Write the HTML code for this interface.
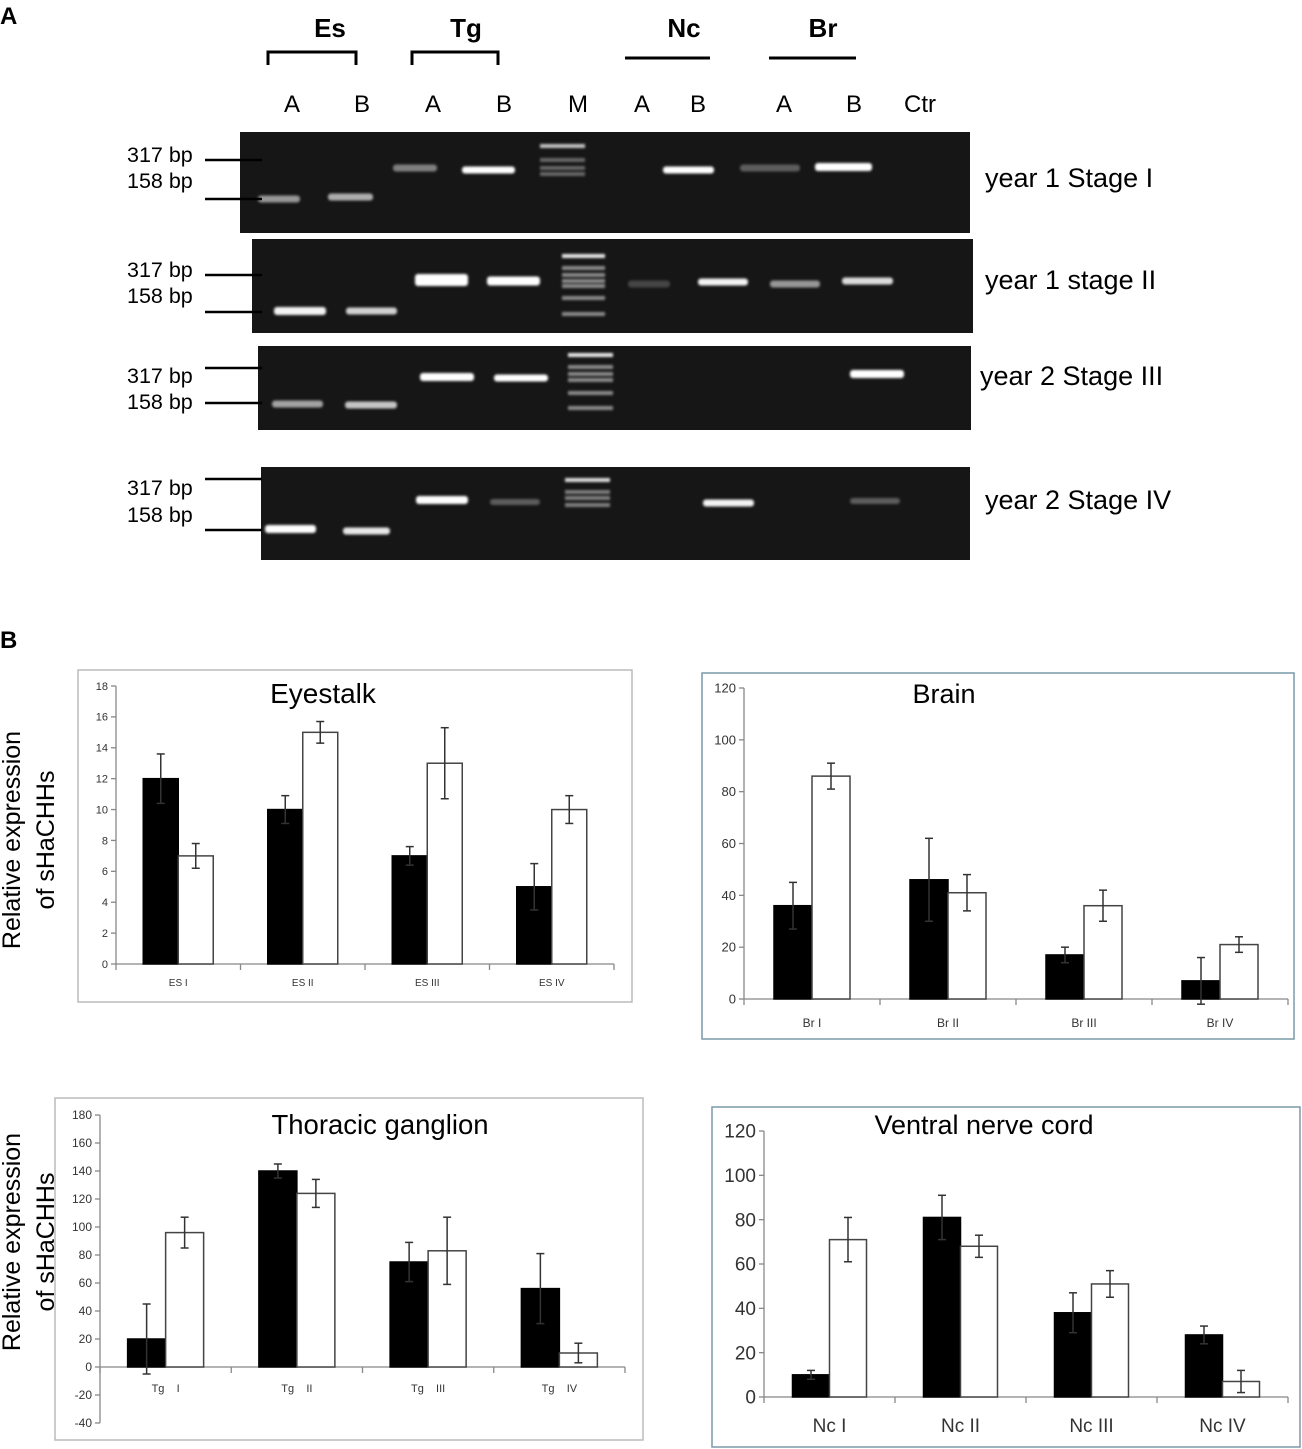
<!DOCTYPE html>
<html><head><meta charset="utf-8"><style>
body{margin:0;background:#fff}
svg{display:block;font-family:"Liberation Sans",Arial,sans-serif}
text{white-space:pre}
</style></head><body>
<svg id="fig" width="1302" height="1449" viewBox="0 0 1302 1449" xmlns="http://www.w3.org/2000/svg">
<defs><filter id="bl" x="-20%" y="-100%" width="140%" height="300%"><feGaussianBlur stdDeviation="1.3"/></filter></defs>
<text x="0" y="24" font-size="24" font-weight="bold">A</text>
<text x="0" y="648" font-size="24" font-weight="bold">B</text>
<g font-size="26" font-weight="bold" text-anchor="middle">
<text x="330" y="37">Es</text><text x="466" y="37">Tg</text><text x="684" y="37">Nc</text><text x="823" y="37">Br</text>
</g>
<g stroke="#000" stroke-width="3" fill="none">
<path d="M268 65V52H356V65"/><path d="M412 65V52H498V65"/><path d="M625 58H710"/><path d="M769 58H856"/>
</g>
<g font-size="24" text-anchor="middle">
<text x="292" y="112">A</text><text x="362" y="112">B</text><text x="433" y="112">A</text><text x="504" y="112">B</text><text x="578" y="112">M</text><text x="642" y="112">A</text><text x="698" y="112">B</text><text x="784" y="112">A</text><text x="854" y="112">B</text><text x="920" y="112">Ctr</text>
</g>
<g id="gels"></g>
<g id="charts"></g>
<g font-size="25" text-anchor="middle">
<text transform="translate(20,840) rotate(-90)">Relative expression</text>
<text transform="translate(54,840) rotate(-90)">of sHaCHHs</text>
</g>
<g font-size="25" text-anchor="middle">
<text transform="translate(20,1242) rotate(-90)">Relative expression</text>
<text transform="translate(54,1242) rotate(-90)">of sHaCHHs</text>
</g>
</svg>
<script>
const NS="http://www.w3.org/2000/svg";
function mk(p,t,a){const e=document.createElementNS(NS,t);for(const k in a)e.setAttribute(k,a[k]);p.appendChild(e);return e;}
// ---------- gels ----------
const gelNames=["year 1 Stage I","year 1 stage II","year 2 Stage III","year 2 Stage IV"];
const gelBoxes=[[240,132,730,101],[252,239,721,94],[258,346,713,84],[261,467,709,93]];
const gelMarkers=[[155,181,160,199],[270,296,275,312],[376,402,368,403],[488,515,479,530]];
const gelLabelY=[187,289,385,509];
const gelBands=[
[[258,300,199,0.55,7],[328,373,197,0.65,7],[393,437,168,0.45,7],[462,515,170,1,7],[663,714,170,1,7],[740,800,168,0.3,7],[815,872,167,1,8]],
[[274,326,311,0.95,8],[346,397,311,0.8,7],[415,468,280,1,12],[487,540,281,1,9],[628,670,284,0.2,7],[698,748,282,0.95,7],[770,820,284,0.55,7],[842,893,281,0.85,7]],
[[272,323,404,0.6,7],[345,397,405,0.75,7],[420,474,377,1,8],[494,548,378,1,7],[850,904,374,1,8]],
[[265,316,529,1,8],[343,390,531,0.9,7],[416,468,500,1,8],[490,540,502,0.3,6],[703,754,503,0.95,7],[850,900,501,0.3,6]]
];
const ladders=[[540,585,[146,160,168,174],0.35],[562,605,[256,268,275,281,286,298,314],0.5],[568,613,[355,367,374,380,393,408],0.5],[565,610,[480,492,498,505],0.45]];
const G=document.getElementById('gels');
gelBoxes.forEach((b,i)=>{
 const g=mk(G,'g',{});
 
 
 mk(g,'rect',{x:b[0],y:b[1],width:b[2],height:b[3],fill:'#161616'});
 gelBands[i].forEach(d=>{const r=mk(g,'rect',{x:d[0],y:d[2]-d[4]/2,width:d[1]-d[0],height:d[4],rx:3,fill:'#fff',opacity:d[3],filter:'url(#bl)'});
  });
 const L=ladders[i];L[2].forEach((y,j)=>mk(g,'rect',{x:L[0],y:y-2,width:L[1]-L[0],height:4,fill:'#fff',opacity:j==0?Math.min(1,L[3]+0.4):L[3],filter:'url(#bl)'}));
 const m=gelMarkers[i];
 const t1=mk(g,'text',{x:127,y:m[0]+7,'font-size':21.5});t1.textContent='317 bp';
 const t2=mk(g,'text',{x:127,y:m[1]+7,'font-size':21.5});t2.textContent='158 bp';
 mk(g,'line',{x1:205,x2:262,y1:m[2],y2:m[2],stroke:'#000','stroke-width':2.5});
 mk(g,'line',{x1:205,x2:262,y1:m[3],y2:m[3],stroke:'#000','stroke-width':2.5});
 const t=mk(g,'text',{x:i==2?980:985,y:gelLabelY[i],'font-size':27});t.textContent=gelNames[i];
 
});
// ---------- charts data ----------
const esCats=["ES I","ES II","ES III","ES IV"];
const esBlack=[12,10,7,5]; const esBlackErr=[1.6,0.9,0.6,1.5];
const esWhite=[7,15,13,10]; const esWhiteErr=[0.8,0.7,2.3,0.9];
const esTicks=[0,2,4,6,8,10,12,14,16,18];
const brCats=["Br I","Br II","Br III","Br IV"];
const brBlack=[36,46,17,7]; const brBlackErr=[9,16,3,9];
const brWhite=[86,41,36,21]; const brWhiteErr=[5,7,6,3];
const brTicks=[0,20,40,60,80,100,120];
const tgCats=["Tg    I","Tg    II","Tg    III","Tg    IV"];
const tgBlack=[20,140,75,56]; const tgBlackErr=[25,5,14,25];
const tgWhite=[96,124,83,10]; const tgWhiteErr=[11,10,24,7];
const tgTicks=[-40,-20,0,20,40,60,80,100,120,140,160,180];
const ncCats=["Nc I","Nc II","Nc III","Nc IV"];
const ncBlack=[10,81,38,28]; const ncBlackErr=[2,10,9,4];
const ncWhite=[71,68,51,7]; const ncWhiteErr=[10,5,6,5];
const ncTicks=[0,20,40,60,80,100,120];
const C=document.getElementById('charts');
function chart(o){
 const g=mk(C,'g',{});
 
 
 mk(g,'rect',{x:o.box[0],y:o.box[1],width:o.box[2],height:o.box[3],fill:'none',stroke:o.boxc,'stroke-width':1.5});
 const tmin=o.ticks[0],tmax=o.ticks[o.ticks.length-1];
 const y=v=>o.yTop+(tmax-v)/(tmax-tmin)*(o.yBot-o.yTop);
 const gw=(o.x1-o.x0)/o.cats.length;
 const x=i=>o.x0+gw*(i+0.5);
 const title=mk(g,'text',{x:o.tx,y:o.ty,'font-size':o.tfs,'text-anchor':'middle'});title.textContent=o.title;
 
 const ax=mk(g,'g',{stroke:'#888','stroke-width':1.3,fill:'none'});
 
 mk(ax,'line',{x1:o.x0,x2:o.x0,y1:y(tmax),y2:y(tmin)});
 o.ticks.forEach(t=>{mk(ax,'line',{x1:o.x0-5,x2:o.x0,y1:y(t),y2:y(t)});
  const tx=mk(g,'text',{x:o.x0-8,y:y(t)+o.fs*0.35,'font-size':o.fs,'text-anchor':'end',fill:'#333'});tx.textContent=t;});
 const xa=mk(g,'g',{stroke:'#888','stroke-width':1.3});
 
 mk(xa,'line',{x1:o.x0,x2:o.x1,y1:y(0),y2:y(0)});
 for(let i=0;i<=o.cats.length;i++)mk(xa,'line',{x1:o.x0+gw*i,x2:o.x0+gw*i,y1:y(0),y2:y(0)+6});
 o.cats.forEach((c,i)=>{const t=mk(g,'text',{x:x(i),y:o.labY,'font-size':o.lfs,'text-anchor':'middle',fill:'#333'});t.textContent=c;
  });
 const bw=o.bw;
 [[o.b,o.be,'#000',-1],[o.w,o.we,'#fff',0]].forEach(s=>{
  s[0].forEach((v,i)=>{
   const bx=x(i)+s[3]*bw, top=y(v), base=y(0);
   const r=mk(g,'rect',{x:bx,y:Math.min(top,base),width:bw,height:Math.abs(base-top),fill:s[2],stroke:s[2]=='#fff'?'#444':'#000','stroke-width':1.5});
   
   
   const cx=bx+bw/2,e=s[1][i];
   const eg=mk(g,'g',{stroke:'#333','stroke-width':1.5});
   
   mk(eg,'line',{x1:cx,x2:cx,y1:y(v+e),y2:y(v-e)});
   mk(eg,'line',{x1:cx-4,x2:cx+4,y1:y(v+e),y2:y(v+e)});
   mk(eg,'line',{x1:cx-4,x2:cx+4,y1:y(v-e),y2:y(v-e)});
  });
 });
}
chart({name:'eyestalk-chart',title:'Eyestalk',tx:323,ty:703,tfs:28,box:[78,670,554,332],boxc:'#bbb',x0:116,x1:614,yTop:686,yBot:964,ticks:esTicks,cats:esCats,b:esBlack,be:esBlackErr,w:esWhite,we:esWhiteErr,bw:35,fs:11,lfs:10,labY:986});
chart({name:'brain-chart',title:'Brain',tx:944,ty:703,tfs:27,box:[702,673,592,366],boxc:'#7a9aa8',x0:744,x1:1288,yTop:688,yBot:999,ticks:brTicks,cats:brCats,b:brBlack,be:brBlackErr,w:brWhite,we:brWhiteErr,bw:38,fs:13,lfs:12,labY:1027});
chart({name:'thoracic-ganglion-chart',title:'Thoracic ganglion',tx:380,ty:1134,tfs:27.5,box:[55,1098,588,342],boxc:'#bbb',x0:100,x1:625,yTop:1115,yBot:1423,ticks:tgTicks,cats:tgCats,b:tgBlack,be:tgBlackErr,w:tgWhite,we:tgWhiteErr,bw:38,fs:12,lfs:11,labY:1392});
chart({name:'ventral-nerve-cord-chart',title:'Ventral nerve cord',tx:984,ty:1134,tfs:27,box:[712,1107,588,340],boxc:'#7a9aa8',x0:764,x1:1288,yTop:1131,yBot:1397,ticks:ncTicks,cats:ncCats,b:ncBlack,be:ncBlackErr,w:ncWhite,we:ncWhiteErr,bw:37,fs:19,lfs:19,labY:1432});
</script>
</body></html>
